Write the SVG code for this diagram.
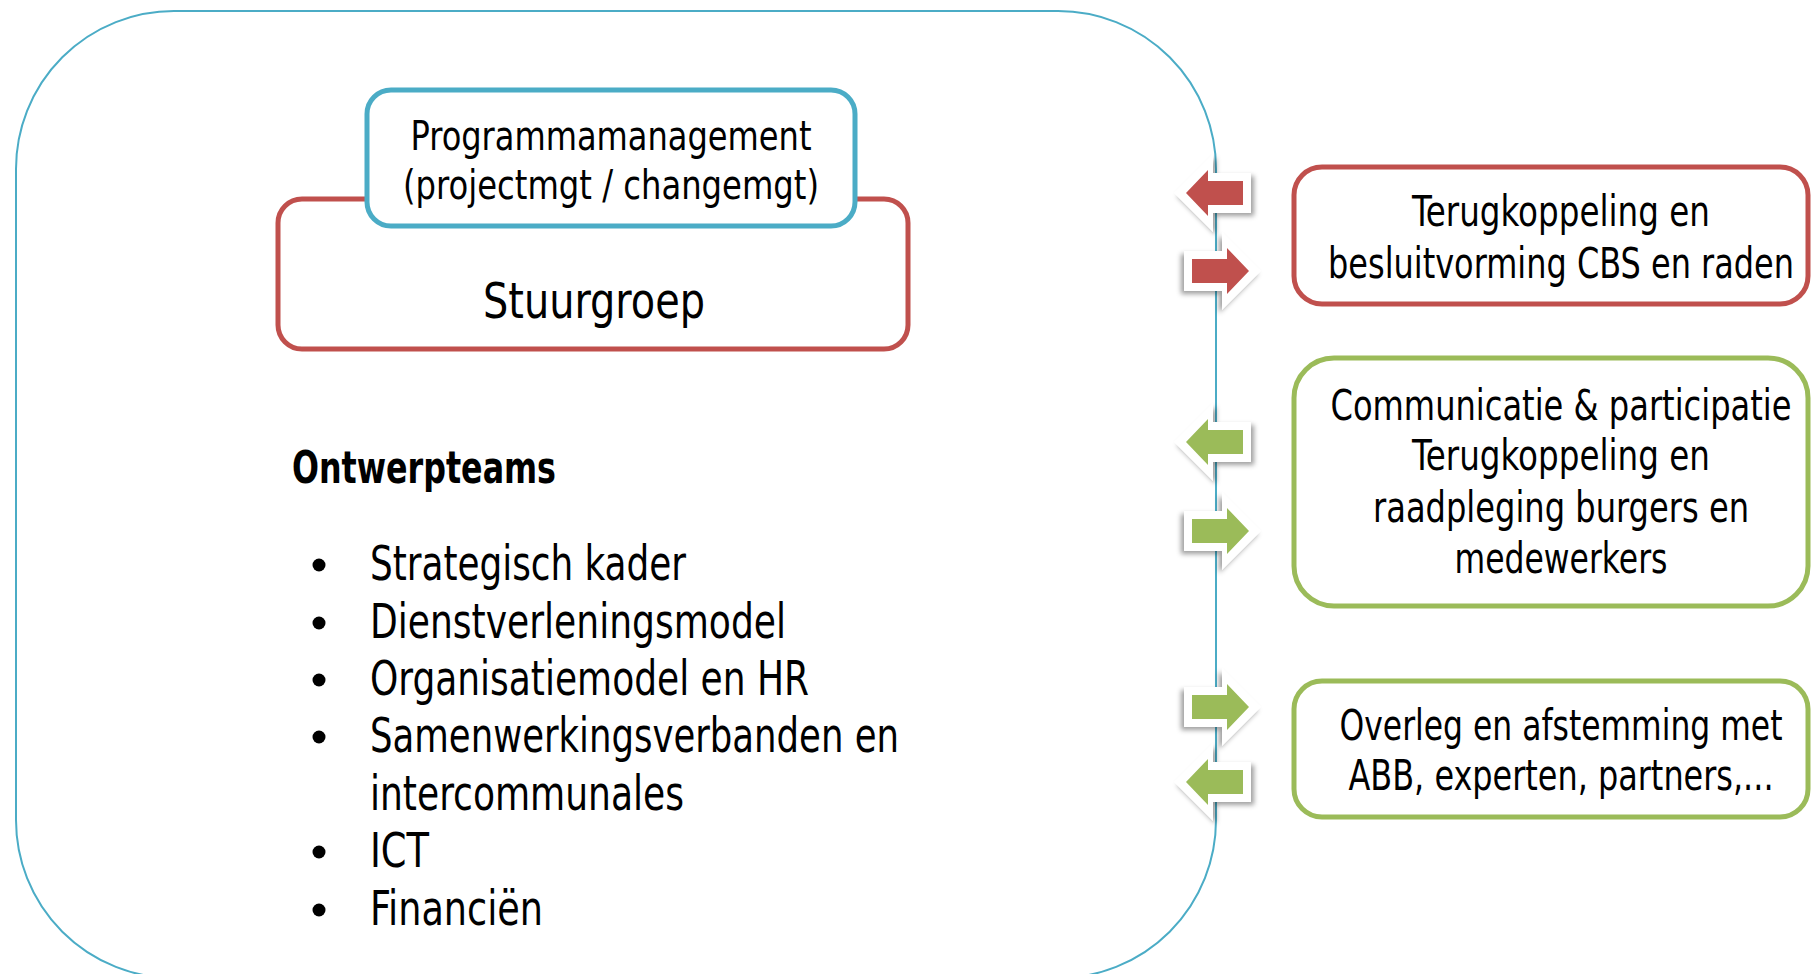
<svg xmlns="http://www.w3.org/2000/svg" xmlns:xlink="http://www.w3.org/1999/xlink" width="1811" height="974" viewBox="0 0 1811 974">
  <style>
    .txt { font-family: "DejaVu Sans Condensed", "DejaVu Sans", "Liberation Sans Narrow", sans-serif; fill: #000; }
    .mid { text-anchor: middle; }
    .box { fill: #fff; stroke-width: 5; }
    .red { stroke: #C0504D; }
    .green { stroke: #9BBB59; }
    .blue { stroke: #4BACC6; }
    .bevel { fill: #fff; filter: url(#shade); }
  </style>
  <defs>
    <filter id="shade" x="-40%" y="-40%" width="180%" height="180%">
      <feDropShadow dx="3" dy="3" stdDeviation="2.5" flood-color="#000" flood-opacity="0.38"/>
    </filter>
    <!-- block arrow pointing left, tip at the origin; inner fill comes from the <use> -->
    <g id="arrowL">
      <path class="bevel" d="M-12,0 L27,-39 L27,-20 L65,-20 L65,20 L27,20 L27,39 Z"/>
      <path d="M0,0 L22,-23 L22,-12 L57,-12 L57,12 L22,12 L22,23 Z"/>
    </g>
  </defs>

  <rect width="1811" height="974" fill="#fff"/>

  <!-- outer frame -->
  <g id="frame">
    <rect x="16" y="11" width="1200" height="967" rx="158" ry="158" fill="none" stroke="#4BACC6" stroke-width="2"/>
  </g>

  <!-- exchange arrows on the frame edge -->
  <g id="connectors">
    <use xlink:href="#arrowL" fill="#C0504D" transform="translate(1186,193)"/>
    <use xlink:href="#arrowL" fill="#C0504D" transform="translate(1249,271) scale(-1,1)"/>
    <use xlink:href="#arrowL" fill="#9BBB59" transform="translate(1186,442)"/>
    <use xlink:href="#arrowL" fill="#9BBB59" transform="translate(1249,531) scale(-1,1)"/>
    <use xlink:href="#arrowL" fill="#9BBB59" transform="translate(1249,707) scale(-1,1)"/>
    <use xlink:href="#arrowL" fill="#9BBB59" transform="translate(1186,782)"/>
  </g>

  <g id="stuurgroep">
    <rect class="box red" x="278" y="199" width="630" height="150" rx="24"/>
    <g transform="translate(594 0) scale(0.78 1)">
      <text class="txt mid" x="0" y="318" font-size="50" textLength="284.6" lengthAdjust="spacingAndGlyphs">Stuurgroep</text>
    </g>
  </g>

  <g id="programmamanagement">
    <rect class="box blue" x="367" y="90" width="488" height="136" rx="24"/>
    <g transform="translate(611 0) scale(0.78 1)">
      <text class="txt mid" x="0" y="150" font-size="40" textLength="514.1" lengthAdjust="spacingAndGlyphs">Programmamanagement</text>
      <text class="txt mid" x="0" y="199" font-size="40" textLength="533.3" lengthAdjust="spacingAndGlyphs">(projectmgt / changemgt)</text>
    </g>
  </g>

  <g id="ontwerpteams">
    <g transform="translate(292 0) scale(0.8 1)">
      <text class="txt" x="0" y="483" font-size="44" font-weight="bold" textLength="330" lengthAdjust="spacingAndGlyphs">Ontwerpteams</text>
    </g>
    <g fill="#000">
      <circle cx="319" cy="565" r="6.5"/>
      <circle cx="319" cy="623" r="6.5"/>
      <circle cx="319" cy="680" r="6.5"/>
      <circle cx="319" cy="737" r="6.5"/>
      <circle cx="319" cy="852" r="6.5"/>
      <circle cx="319" cy="910" r="6.5"/>
    </g>
    <g transform="translate(370 0) scale(0.8 1)">
      <text class="txt" x="0" y="580" font-size="48" textLength="395" lengthAdjust="spacingAndGlyphs">Strategisch kader</text>
      <text class="txt" x="0" y="638" font-size="48" textLength="520" lengthAdjust="spacingAndGlyphs">Dienstverleningsmodel</text>
      <text class="txt" x="0" y="695" font-size="48" textLength="548.75" lengthAdjust="spacingAndGlyphs">Organisatiemodel en HR</text>
      <text class="txt" x="0" y="752" font-size="48" textLength="661.25" lengthAdjust="spacingAndGlyphs">Samenwerkingsverbanden en</text>
      <text class="txt" x="0" y="810" font-size="48" textLength="392.5" lengthAdjust="spacingAndGlyphs">intercommunales</text>
      <text class="txt" x="0" y="867" font-size="48" textLength="73.75" lengthAdjust="spacingAndGlyphs">ICT</text>
      <text class="txt" x="0" y="925" font-size="48" textLength="216.25" lengthAdjust="spacingAndGlyphs">Financiën</text>
    </g>
  </g>

  <g id="besluitvorming">
    <rect class="box red" x="1294" y="167" width="514" height="137" rx="28"/>
    <g transform="translate(1561 0) scale(0.75 1)">
      <text class="txt mid" x="0" y="226" font-size="42" textLength="397.3" lengthAdjust="spacingAndGlyphs">Terugkoppeling en</text>
      <text class="txt mid" x="0" y="278" font-size="42" textLength="621.3" lengthAdjust="spacingAndGlyphs">besluitvorming CBS en raden</text>
    </g>
  </g>

  <g id="communicatie">
    <rect class="box green" x="1294" y="358" width="514" height="248" rx="40"/>
    <g transform="translate(1561 0) scale(0.75 1)">
      <text class="txt mid" x="0" y="420" font-size="42" textLength="614.7" lengthAdjust="spacingAndGlyphs">Communicatie &amp; participatie</text>
      <text class="txt mid" x="0" y="470" font-size="42" textLength="397.3" lengthAdjust="spacingAndGlyphs">Terugkoppeling en</text>
      <text class="txt mid" x="0" y="522" font-size="42" textLength="501.3" lengthAdjust="spacingAndGlyphs">raadpleging burgers en</text>
      <text class="txt mid" x="0" y="573" font-size="42" textLength="284" lengthAdjust="spacingAndGlyphs">medewerkers</text>
    </g>
  </g>

  <g id="overleg">
    <rect class="box green" x="1294" y="681" width="514" height="136" rx="28"/>
    <g transform="translate(1561 0) scale(0.75 1)">
      <text class="txt mid" x="0" y="740" font-size="42" textLength="590.7" lengthAdjust="spacingAndGlyphs">Overleg en afstemming met</text>
      <text class="txt mid" x="0" y="790" font-size="42" textLength="566.7" lengthAdjust="spacingAndGlyphs">ABB, experten, partners,...</text>
    </g>
  </g>
</svg>
